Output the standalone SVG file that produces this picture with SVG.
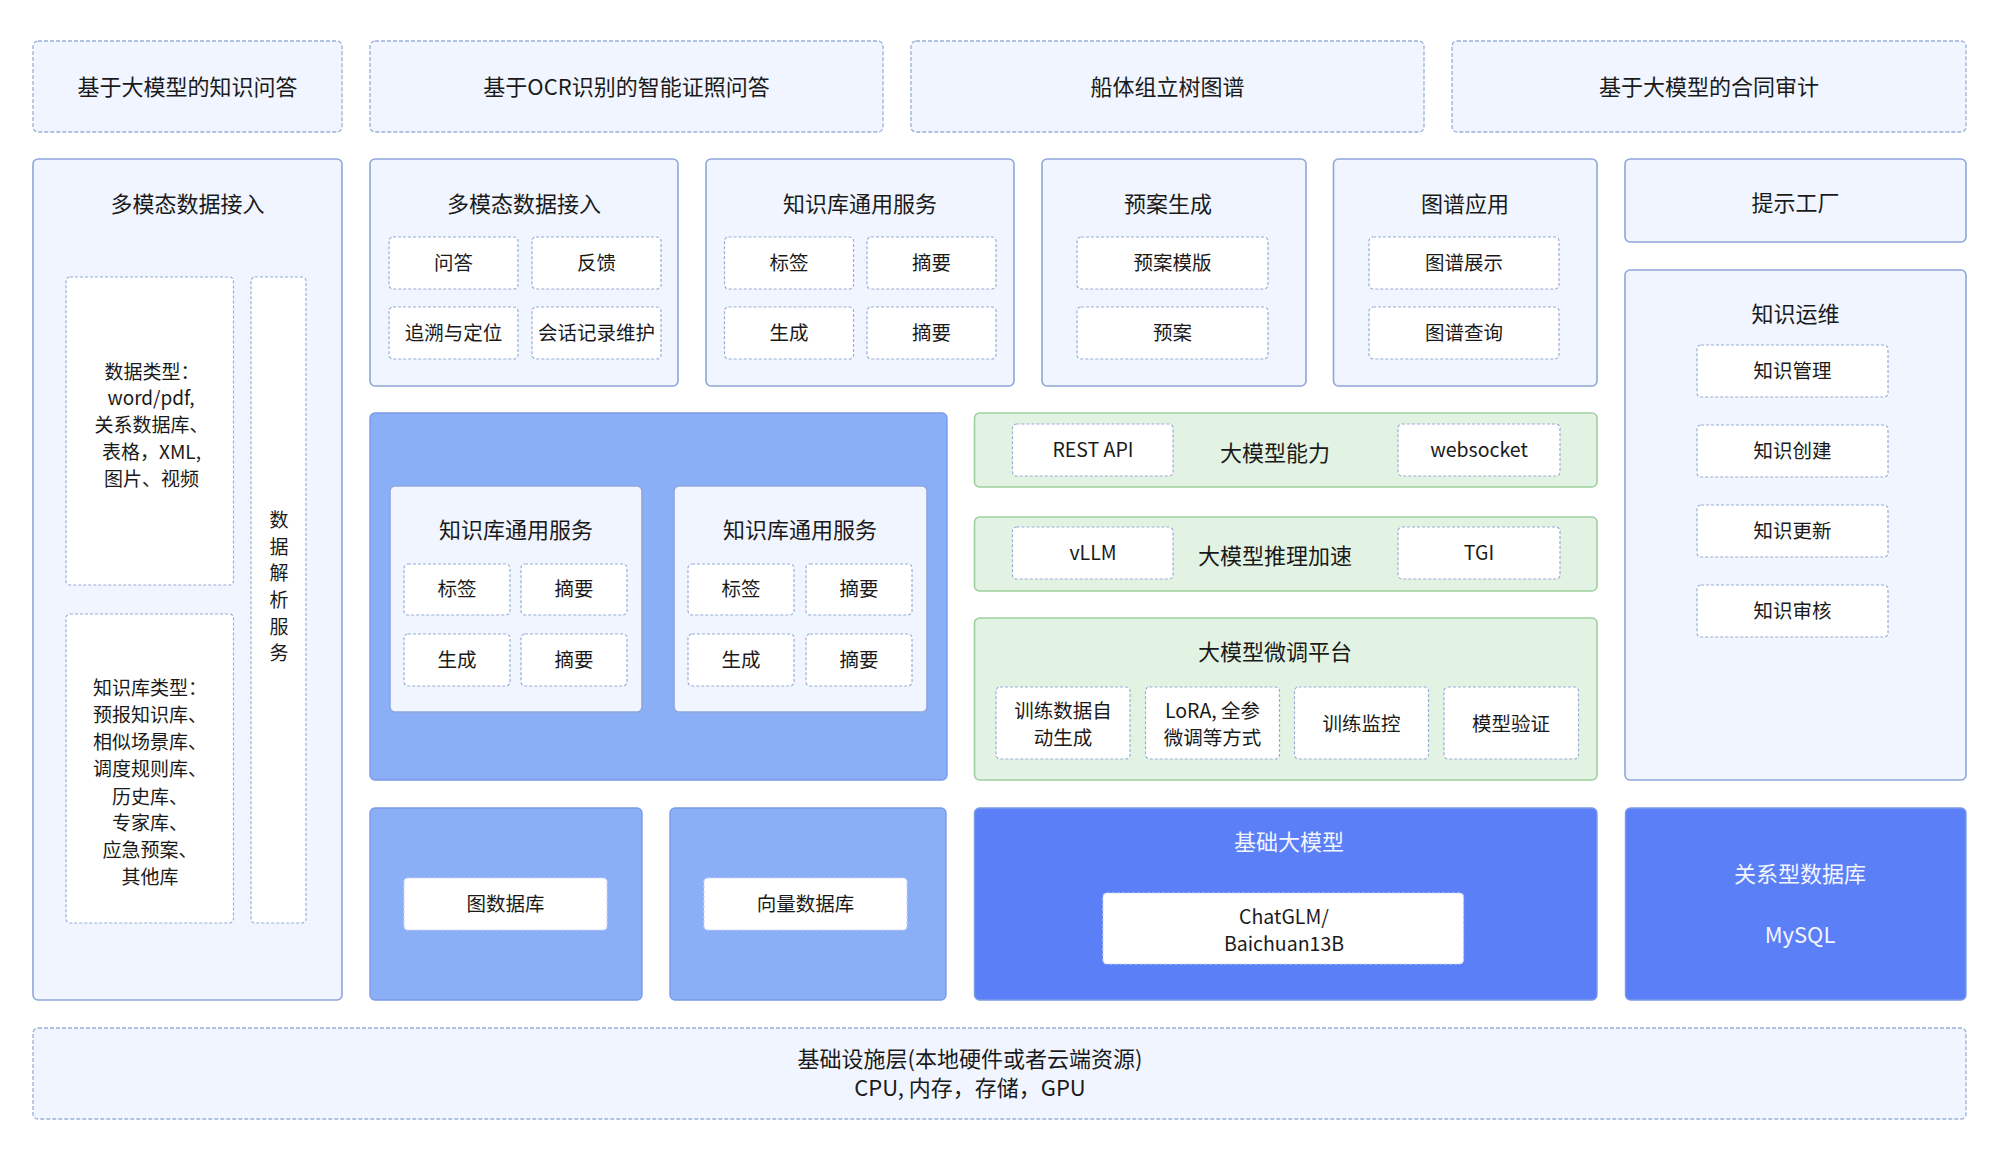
<svg xmlns="http://www.w3.org/2000/svg" width="1999" height="1150" viewBox="0 0 1999 1150">
<style>
text{font-family:"Noto Sans CJK SC","Noto Sans",sans-serif;fill:#1a1a1a;text-anchor:middle;dominant-baseline:central;transform:translateY(-2px)}
.t{font-size:22px}
.c{font-size:19.5px}
.s{font-size:19px}
.w{fill:#f2f5ff}
.app{fill:#f0f5ff;stroke:#9aaed6;stroke-width:1.3;stroke-dasharray:4 2}
.mod{fill:#f0f5ff;stroke:#8fa6dc;stroke-width:1.6}
.cell{fill:#ffffff;stroke:#9aaed6;stroke-width:1.2;stroke-dasharray:3 2}
.blue{fill:#8aaff7;stroke:#7b9ae8;stroke-width:1.4}
.dark{fill:#5b7ff7;stroke:#7b9ae8;stroke-width:1.4}
.green{fill:#e3f3e3;stroke:#9fcf9f;stroke-width:1.6}
</style>
<rect width="1999" height="1150" fill="#ffffff"/>

<g id="app-qa"><rect class="app" x="33" y="41" width="309" height="91" rx="5"/><text class="t" x="187.5" y="86.5">基于大模型的知识问答</text></g>
<g id="app-ocr"><rect class="app" x="370" y="41" width="513" height="91" rx="5"/><text class="t" x="626.5" y="86.5">基于OCR识别的智能证照问答</text></g>
<g id="app-tree"><rect class="app" x="911" y="41" width="513" height="91" rx="5"/><text class="t" x="1167.5" y="86.5">船体组立树图谱</text></g>
<g id="app-contract"><rect class="app" x="1452" y="41" width="514" height="91" rx="5"/><text class="t" x="1709" y="86.5">基于大模型的合同审计</text></g>

<g id="ingest-left">
<rect class="mod" x="33" y="159" width="309" height="841" rx="5"/>
<text class="t" x="187.5" y="204">多模态数据接入</text>
<rect class="cell" x="66" y="277" width="167.5" height="308" rx="4"/>
<text class="s" x="152" y="372">数据类型：</text>
<text class="s" x="151" y="398.5">word/pdf,</text>
<text class="s" x="151.5" y="425">关系数据库、</text>
<text class="s" x="151.5" y="452">表格，XML,</text>
<text class="s" x="151.5" y="479">图片、视频</text>
<rect class="cell" x="251" y="277" width="55" height="646" rx="4"/>
<text class="s" x="279" y="520">数</text><text class="s" x="279" y="547">据</text><text class="s" x="279" y="573">解</text><text class="s" x="279" y="600">析</text><text class="s" x="279" y="627">服</text><text class="s" x="279" y="653">务</text>
<rect class="cell" x="66" y="614" width="167.5" height="309" rx="4"/>
<text class="s" x="150" y="688">知识库类型：</text>
<text class="s" x="150" y="715">预报知识库、</text>
<text class="s" x="150" y="742">相似场景库、</text>
<text class="s" x="150" y="769">调度规则库、</text>
<text class="s" x="150" y="797">历史库、</text>
<text class="s" x="150" y="823">专家库、</text>
<text class="s" x="150" y="850">应急预案、</text>
<text class="s" x="150" y="877">其他库</text>
</g>

<g id="ingest">
<rect class="mod" x="370" y="159" width="308" height="227" rx="5"/>
<text class="t" x="524" y="204">多模态数据接入</text>
<rect class="cell" x="389" y="237" width="129" height="52" rx="4"/><text class="c" x="453.5" y="263">问答</text>
<rect class="cell" x="532" y="237" width="129" height="52" rx="4"/><text class="c" x="596.5" y="263">反馈</text>
<rect class="cell" x="389" y="307" width="129" height="52" rx="4"/><text class="c" x="453.5" y="333">追溯与定位</text>
<rect class="cell" x="532" y="307" width="129" height="52" rx="4"/><text class="c" x="596.5" y="333">会话记录维护</text>
</g>

<g id="kb-service">
<rect class="mod" x="706" y="159" width="308" height="227" rx="5"/>
<text class="t" x="860" y="204">知识库通用服务</text>
<rect class="cell" x="724.5" y="237" width="129" height="52" rx="4"/><text class="c" x="789" y="263">标签</text>
<rect class="cell" x="867" y="237" width="129" height="52" rx="4"/><text class="c" x="931.5" y="263">摘要</text>
<rect class="cell" x="724.5" y="307" width="129" height="52" rx="4"/><text class="c" x="789" y="333">生成</text>
<rect class="cell" x="867" y="307" width="129" height="52" rx="4"/><text class="c" x="931.5" y="333">摘要</text>
</g>

<g id="plan">
<rect class="mod" x="1042" y="159" width="264" height="227" rx="5"/>
<text class="t" x="1168" y="204">预案生成</text>
<rect class="cell" x="1077" y="237" width="191" height="52" rx="4"/><text class="c" x="1172.5" y="263">预案模版</text>
<rect class="cell" x="1077" y="307" width="191" height="52" rx="4"/><text class="c" x="1172.5" y="333">预案</text>
</g>

<g id="graph-app">
<rect class="mod" x="1333.5" y="159" width="263.5" height="227" rx="5"/>
<text class="t" x="1465" y="204">图谱应用</text>
<rect class="cell" x="1369" y="237" width="190" height="52" rx="4"/><text class="c" x="1464" y="263">图谱展示</text>
<rect class="cell" x="1369" y="307" width="190" height="52" rx="4"/><text class="c" x="1464" y="333">图谱查询</text>
</g>

<g id="prompt">
<rect class="mod" x="1625" y="159" width="341" height="83" rx="5"/>
<text class="t" x="1795.5" y="203">提示工厂</text>
</g>

<g id="kops">
<rect class="mod" x="1625" y="270" width="341" height="510" rx="5"/>
<text class="t" x="1795.5" y="314">知识运维</text>
<rect class="cell" x="1697" y="345" width="191" height="52" rx="4"/><text class="c" x="1792.5" y="371">知识管理</text>
<rect class="cell" x="1697" y="425" width="191" height="52" rx="4"/><text class="c" x="1792.5" y="451">知识创建</text>
<rect class="cell" x="1697" y="505" width="191" height="52" rx="4"/><text class="c" x="1792.5" y="531">知识更新</text>
<rect class="cell" x="1697" y="585" width="191" height="52" rx="4"/><text class="c" x="1792.5" y="611">知识审核</text>
</g>

<g id="kb-area">
<rect class="blue" x="370" y="413" width="577" height="367" rx="5"/>
<rect class="mod" x="390" y="486" width="252" height="226" rx="5"/>
<text class="t" x="516" y="530">知识库通用服务</text>
<rect class="cell" x="404" y="564" width="106" height="51" rx="4"/><text class="c" x="457" y="589.5">标签</text>
<rect class="cell" x="521" y="564" width="106" height="51" rx="4"/><text class="c" x="574" y="589.5">摘要</text>
<rect class="cell" x="404" y="634" width="106" height="52" rx="4"/><text class="c" x="457" y="660">生成</text>
<rect class="cell" x="521" y="634" width="106" height="52" rx="4"/><text class="c" x="574" y="660">摘要</text>
<rect class="mod" x="674" y="486" width="253" height="226" rx="5"/>
<text class="t" x="800" y="530">知识库通用服务</text>
<rect class="cell" x="688" y="564" width="106" height="51" rx="4"/><text class="c" x="741" y="589.5">标签</text>
<rect class="cell" x="806" y="564" width="106" height="51" rx="4"/><text class="c" x="859" y="589.5">摘要</text>
<rect class="cell" x="688" y="634" width="106" height="52" rx="4"/><text class="c" x="741" y="660">生成</text>
<rect class="cell" x="806" y="634" width="106" height="52" rx="4"/><text class="c" x="859" y="660">摘要</text>
</g>

<g id="llm-capability">
<rect class="green" x="974.5" y="413" width="622.5" height="74" rx="5"/>
<rect class="cell" x="1012.5" y="424" width="160.5" height="52" rx="4"/><text class="c" x="1093" y="450">REST API</text>
<text class="t" x="1275" y="453">大模型能力</text>
<rect class="cell" x="1398" y="424" width="162" height="52" rx="4"/><text class="c" x="1479" y="450">websocket</text>
</g>

<g id="llm-accel">
<rect class="green" x="974.5" y="517" width="622.5" height="74" rx="5"/>
<rect class="cell" x="1012.5" y="527" width="160.5" height="52" rx="4"/><text class="c" x="1093" y="553">vLLM</text>
<text class="t" x="1275" y="556">大模型推理加速</text>
<rect class="cell" x="1398" y="527" width="162" height="52" rx="4"/><text class="c" x="1479" y="553">TGI</text>
</g>

<g id="llm-finetune">
<rect class="green" x="974.5" y="618" width="622.5" height="162" rx="5"/>
<text class="t" x="1275" y="652">大模型微调平台</text>
<rect class="cell" x="996" y="687" width="134" height="72" rx="4"/>
<text class="c" x="1063" y="711">训练数据自</text><text class="c" x="1063" y="738">动生成</text>
<rect class="cell" x="1145.5" y="687" width="134" height="72" rx="4"/>
<text class="c" x="1212.5" y="711">LoRA, 全参</text><text class="c" x="1212.5" y="738">微调等方式</text>
<rect class="cell" x="1294.5" y="687" width="134" height="72" rx="4"/>
<text class="c" x="1361.5" y="724">训练监控</text>
<rect class="cell" x="1444" y="687" width="134.5" height="72" rx="4"/>
<text class="c" x="1511" y="724">模型验证</text>
</g>

<g id="graph-db">
<rect class="blue" x="370" y="808" width="272" height="192" rx="5"/>
<rect class="cell" x="404" y="878" width="203" height="52" rx="4" style="stroke:#c9d6f2"/><text class="c" x="505.5" y="904">图数据库</text>
</g>

<g id="vector-db">
<rect class="blue" x="670" y="808" width="276" height="192" rx="5"/>
<rect class="cell" x="704" y="878" width="203" height="52" rx="4" style="stroke:#c9d6f2"/><text class="c" x="805.5" y="904">向量数据库</text>
</g>

<g id="base-llm">
<rect class="dark" x="974.5" y="808" width="622.5" height="192" rx="5"/>
<text class="t w" x="1289" y="842">基础大模型</text>
<rect class="cell" x="1103" y="893" width="360.5" height="71" rx="4" style="stroke:#c9d6f2"/>
<text class="c" x="1284" y="917">ChatGLM/</text>
<text class="c" x="1284" y="944">Baichuan13B</text>
</g>

<g id="rdb">
<rect class="dark" x="1625.5" y="808" width="340.5" height="192" rx="5"/>
<text class="t w" x="1800" y="874">关系型数据库</text>
<text class="t w" x="1800" y="935">MySQL</text>
</g>

<g id="infra">
<rect class="app" x="33" y="1028" width="1933" height="91" rx="5"/>
<text class="t" x="970" y="1059">基础设施层(本地硬件或者云端资源)</text>
<text class="t" x="970" y="1088">CPU, 内存，存储，GPU</text>
</g>

<g id="connectors"></g>
</svg>
